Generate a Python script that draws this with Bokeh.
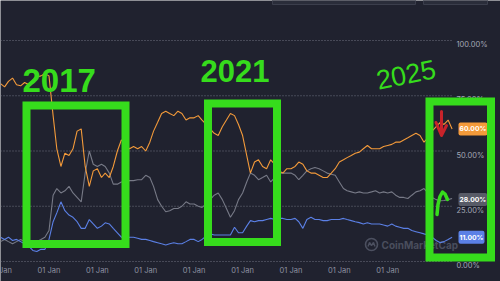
import pandas as pd
from bokeh.plotting import figure
from bokeh.models import Range1d
from bokeh.core.properties import value
from bokeh.embed import file_html
from bokeh.resources import INLINE

# ---------------- data (monthly) ----------------
months = pd.date_range("2016-01-01", periods=113, freq="MS")

btc = [80.5, 79, 81.5, 83, 80, 79.5, 81, 80, 82, 83.5, 84, 85,
       84, 66, 51, 43, 49, 48, 51, 59, 60, 43, 34, 41,
       42, 38, 40, 38, 43, 50, 55, 53, 51, 52, 51, 52,
       50, 54, 59, 63, 67, 68, 67, 66, 68, 67, 64, 65,
       65, 66, 64, 62, 60, 58, 57, 61, 64, 67, 66, 62,
       57, 48, 40, 45, 46, 43, 42, 46, 44, 41, 40, 42,
       42, 43, 45, 44, 41, 40, 40, 39, 38, 38, 40, 42,
       45, 46, 47, 48, 49, 49.5, 51, 52.5, 51, 51, 51, 52,
       52.5, 53, 54, 54, 55, 56, 57, 58, 57, 54, 56, 59,
       61, 63, 62, 64, 60]

others = [9, 10, 9, 8, 9, 10, 9, 9, 8, 9, 10, 11,
          14, 30, 33, 31, 32, 34, 31, 29, 27, 40, 50, 44,
          43, 44, 43, 40, 35, 35, 36, 36, 36.6, 36.6, 37, 37,
          39, 38, 34, 28, 25, 22.5, 23, 24, 24, 25, 27, 26,
          26, 25, 24.5, 26, 28, 30, 31, 28, 24, 20, 23, 28,
          31, 36, 40, 39, 37, 38, 39, 36, 38, 40, 40, 40,
          40, 39, 37, 39, 41, 42, 42.5, 42, 41, 40, 39.5, 39,
          36, 33, 32, 31.5, 31, 31.5, 31, 31, 31.5, 32, 31, 31.5,
          31, 31.5, 30, 29, 29, 28.5, 30, 31.5, 32, 33, 31, 29,
          28, 27.5, 27.6, 28, 28.5]

eth = [11, 10, 11, 9.5, 10, 9, 8, 7, 5, 4.5, 5.5, 5.5,
       10, 18, 22, 27, 23, 21, 20, 18, 15, 15, 19, 17,
       15, 16, 17.5, 17, 15, 13, 11, 11, 11, 11, 10.5, 10,
       10, 9.5, 9, 8.5, 8, 7.5, 8, 8.5, 8, 8, 9, 10,
       10, 9, 10, 11.5, 12.5, 12, 12, 12, 12, 12, 15.5, 13,
       13, 16, 18.5, 18, 18.5, 18.5, 19, 19.5, 19, 19.5, 19.5, 19,
       19, 19.5, 18, 15, 19, 20, 19, 19, 18.5, 18.5, 19, 19,
       19, 19.5, 19, 18.5, 18, 17.6, 17, 17.5, 17, 17, 17, 16.5,
       16, 17, 16, 15.5, 15, 15, 14, 13.5, 13, 12.5, 12, 11,
       9.5, 8.5, 9, 10, 11]

tick_years = [2016, 2017, 2018, 2019, 2020, 2021, 2022, 2023, 2024]
tick_label = "01 Jan"
y_ticks = [0, 25, 50, 75, 100]
y_tick_labels = ["0.00%", "25.00%", "50.00%", "75.00%", "100.00%"]
badge_values = [60.0, 28.0, 11.0]
badge_labels = ["60.00%", "28.00%", "11.00%"]
notes = ["2017", "2021", "2025"]
watermark = "CoinMarketCap"

# ---------------- styling / geometry ----------------
BG = "#20222f"
ORANGE = "#f39a3a"
GREY = "#777a87"
BLUE = "#5b80e6"
GREEN = "#36dc1c"
FONT = value("Inter")

W, H = 500, 281
X0 = pd.Timestamp("2016-01-01").value / 1e6          # ms
MS_PER_PX = 365.25 * 86400000 / 48.4
PX_PER_PCT = 2.21
Y_ZERO_PX = 261


def X(px):
    return X0 + px * MS_PER_PX


def Y(py):
    return (Y_ZERO_PX - py) / PX_PER_PCT


p = figure(width=W, height=H, output_backend="svg", toolbar_location=None,
           x_range=Range1d(X(0), X(W)), y_range=Range1d(Y(H), Y(0)),
           x_axis_location=None, y_axis_location=None, min_border=0,
           background_fill_color=BG, border_fill_color=BG,
           outline_line_color=None)
p.xgrid.visible = False
p.ygrid.visible = False

# top UI remnants
p.quad(left=[X(272), X(423)], right=[X(415), X(487)], bottom=[Y(4), Y(4)],
       top=[Y(-3), Y(-3)], fill_color="#2a2d3a", line_color="#3b3e4c",
       line_width=1)

# dotted grid lines up to the end of the plot area
p.segment(x0=[X(0)] * len(y_ticks), x1=[X(453)] * len(y_ticks), y0=y_ticks,
          y1=y_ticks, line_color="#7d808e", line_width=1, line_dash="1 2",
          line_alpha=0.85)

# y labels (right)
p.text(x=[X(456)] * len(y_ticks), y=y_ticks, text=y_tick_labels,
       text_font=FONT, text_font_size="7.5px", text_color="#a3a7b5",
       text_baseline="middle", text_align="left", y_offset=4)

# x labels
p.text(x=[pd.Timestamp(f"{yr}-01-01") for yr in tick_years],
       y=[0] * len(tick_years), text=[tick_label] * len(tick_years),
       text_font=FONT, text_font_size="7.5px", text_color="#8d91a0",
       text_baseline="middle", text_align="center", y_offset=9)

# watermark
p.scatter(x=[X(371)], y=[Y(244)], size=12, marker="circle",
          fill_color=None, line_color="#4c5060", line_width=1.6)
p.line(x=[X(367.5), X(369), X(371), X(373), X(374.5)],
       y=[Y(246), Y(242), Y(245), Y(242), Y(246)],
       line_color="#4c5060", line_width=1.4)
p.text(x=[X(381)], y=[Y(244)], text=[watermark], text_font=FONT,
       text_font_size="10px", text_font_style="bold", text_color="#4a4e5d",
       text_baseline="middle", text_align="left")

# series
p.line(months, others, line_color=GREY, line_width=1.1)
p.line(months, eth, line_color=BLUE, line_width=1.1)
p.line(months, btc, line_color=ORANGE, line_width=1.1)

# value badges
for v, lab, col in zip(badge_values, badge_labels, [ORANGE, "#585b67", BLUE]):
    p.text(x=[X(458)], y=[v], text=[lab], text_font=FONT,
           text_font_size="6.8px", text_font_style="bold",
           text_color="white", text_baseline="middle", text_align="left",
           background_fill_color=col, padding=dict(x=1, y=2),
           border_radius=2)

# hand-drawn annotations
boxes = [(26, 125, 105, 243.5), (207.5, 276.5, 103, 241.5),
         (429, 490.5, 101, 257)]
p.quad(left=[X(b[0]) for b in boxes], right=[X(b[1]) for b in boxes],
       top=[Y(b[2]) for b in boxes], bottom=[Y(b[3]) for b in boxes],
       fill_color=None, line_color=GREEN, line_width=8, line_join="miter")

p.text(x=[X(22)], y=[Y(80)], text=[notes[0]], text_font=value("Liberation Sans"),
       text_font_size="33px", text_font_style="bold", text_color=GREEN,
       text_baseline="middle", text_align="left")
p.text(x=[X(200)], y=[Y(70)], text=[notes[1]], text_font=value("Liberation Sans"),
       text_font_size="31px", text_font_style="bold", text_color=GREEN,
       text_baseline="middle", text_align="left")
p.text(x=[X(376)], y=[Y(80)], text=[notes[2]], text_font=value("Liberation Sans"),
       text_font_size="27px", text_color=GREEN, angle=0.2,
       text_baseline="middle", text_align="left")

# red arrow
p.line(x=[X(441), X(441)], y=[Y(111), Y(134)], line_color="#c8232a",
       line_width=3, line_cap="round")
p.line(x=[X(435.5), X(441), X(446)], y=[Y(122), Y(135), Y(125)],
       line_color="#c8232a", line_width=3, line_cap="round",
       line_join="round")
# green hook
p.line(x=[X(436.5), X(437.5), X(439.5), X(442), X(444.5), X(447)],
       y=[Y(214), Y(204), Y(196), Y(191.5), Y(193.5), Y(199)],
       line_color=GREEN, line_width=3.5, line_cap="round", line_join="round")

open("out.html", "w").write(file_html(p, INLINE))
